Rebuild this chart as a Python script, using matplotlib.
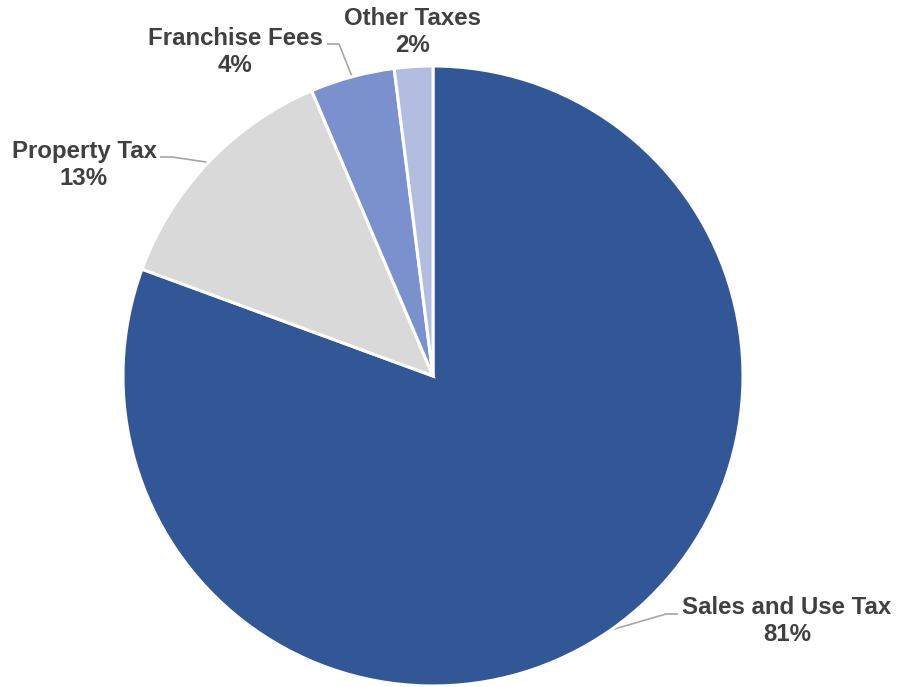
import numpy as np
import matplotlib.pyplot as plt

plt.rcParams['font.family'] = ['Liberation Sans', 'DejaVu Sans']

# revenue shares, clockwise from 12 o'clock
categories = ['Sales and Use Tax', 'Property Tax', 'Franchise Fees', 'Other Taxes']
shares = [80.6, 13.0, 4.4, 2.0]
colors = ['#325797', '#D9D9D9', '#7A91CE', '#B2BDE0']

W, H = 897, 687
fig = plt.figure(figsize=(W / 100, H / 100), dpi=100)
ax = fig.add_axes([0, 0, 1, 1])

cx, cy, r = 433, H - 376, 310
wedges, _ = ax.pie(shares, colors=colors, startangle=90, counterclock=False,
                   center=(cx, cy), radius=r, frame=True,
                   wedgeprops=dict(edgecolor='white', linewidth=2.2))
ax.set_xlim(0, W)
ax.set_ylim(0, H)
ax.set_aspect('equal')
ax.axis('off')

# label centre (pixels from top-left) and where the leader line meets the text
label_pos = [(787, 621), (84, 165), (235, 52), (412, 32)]
leader_end = [(678, 614), (160, 157), (327, 44), None]

for w, name, val, (lx, ly), le in zip(wedges, categories, shares, label_pos, leader_end):
    ax.text(lx, H - ly, f'{name}\n{val:.0f}%', ha='center', va='center',
            fontsize=17.3, fontweight='bold', color='#404040', linespacing=1.27)
    if le is None:
        continue
    mid = np.deg2rad((w.theta1 + w.theta2) / 2)
    ex, ey = cx + r * np.cos(mid), cy + r * np.sin(mid)
    tx, ty = le[0], H - le[1]
    bx = tx - 12 if tx > cx else tx + 12
    ax.plot([ex, bx, tx], [ey, ty, ty], color='#A6A6A6', lw=1.2,
            solid_capstyle='butt', zorder=0.5)

fig.savefig('out.png', dpi=100)
